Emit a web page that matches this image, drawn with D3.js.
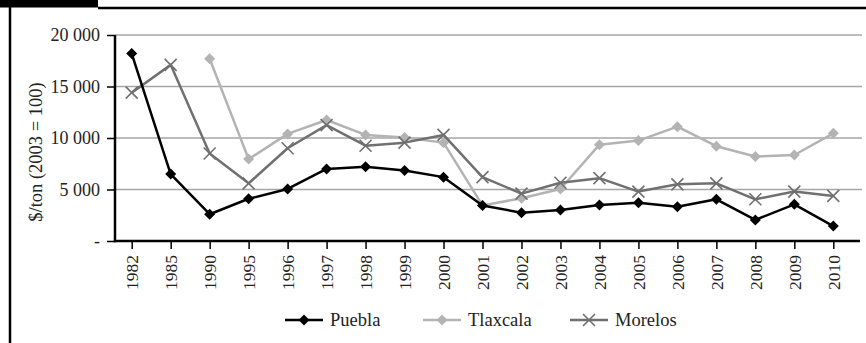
<!DOCTYPE html>
<html><head><meta charset="utf-8">
<script src="https://cdn.jsdelivr.net/npm/d3@7"></script>
<style>
html,body{margin:0;padding:0;background:#fff;}
</style></head>
<body>
<svg id="chart" width="866" height="343"></svg>
<script>
const years = ["1982","1985","1990","1995","1996","1997","1998","1999","2000","2001","2002","2003","2004","2005","2006","2007","2008","2009","2010"];
const puebla   = [18200,6500,2600,4100,5050,7000,7200,6850,6200,3450,2750,3000,3500,3720,3330,4050,2050,3560,1450];
const tlaxcala = [null,null,17700,7950,10400,11750,10300,10050,9550,3450,4150,5050,9350,9750,11100,9200,8200,8350,10450];
const morelos  = [14400,17100,8500,5600,9000,11250,9250,9550,10300,6200,4600,5650,6100,4800,5500,5600,4050,4800,4380];
const yTicks = [0,5000,10000,15000,20000];
const yTickLabels = ["-","5 000","10 000","15 000","20 000"];
const seriesNames = ["Puebla","Tlaxcala","Morelos"];
const yTitle = "$/ton (2003 = 100)";

const FONT = '"Liberation Serif", "Times New Roman", serif';
const svg = d3.select("#chart");
const colors = {Puebla:"#000000", Tlaxcala:"#b3b3b3", Morelos:"#707070"};
const series = [
  {name:"Puebla", values:puebla, sym:"diamond"},
  {name:"Tlaxcala", values:tlaxcala, sym:"diamond"},
  {name:"Morelos", values:morelos, sym:"x"}
];

const x = d3.scalePoint().domain(years).range([131.7, 833.3]);
const y = d3.scaleLinear().domain([0,20000]).range([241,35]);
const axisX = 115, gridRight = 862, axisRight = 860;

// frame
svg.append("rect").attr("x",0).attr("y",0).attr("width",98).attr("height",7.5).attr("fill","#000");
svg.append("line").attr("x1",98).attr("x2",866).attr("y1",8).attr("y2",8).attr("stroke","#000").attr("stroke-width",2.5);
svg.append("line").attr("x1",10).attr("x2",10).attr("y1",7).attr("y2",343).attr("stroke","#000").attr("stroke-width",2.5);

// gridlines
svg.append("g").selectAll("line").data(yTicks.filter(d=>d>0)).join("line")
  .attr("x1",axisX).attr("x2",gridRight).attr("y1",d=>y(d)).attr("y2",d=>y(d))
  .attr("stroke","#a6a6a6").attr("stroke-width",1.5);

// y axis
const ya = svg.append("g").attr("transform",`translate(${axisX},0)`)
  .call(d3.axisLeft(y).tickValues(yTicks).tickFormat((d,i)=>yTickLabels[i]).tickSize(8).tickPadding(7));
ya.select(".domain").remove();
ya.selectAll(".tick line").attr("stroke","#000").attr("stroke-width",1.5);
ya.selectAll(".tick text").style("font-family",FONT).style("font-size","18px").attr("fill","#222");
svg.append("line").attr("x1",axisX).attr("x2",axisX).attr("y1",y(20000)).attr("y2",y(0)+1.2).attr("stroke","#000").attr("stroke-width",2.5);

// x axis
const xa = svg.append("g").attr("transform",`translate(0,${y(0)})`)
  .call(d3.axisBottom(x).tickSize(8).tickPadding(6));
xa.select(".domain").remove();
xa.selectAll(".tick line").attr("stroke","#000").attr("stroke-width",1.5);
xa.selectAll(".tick text").style("font-family",FONT).style("font-size","17.5px").attr("fill","#222")
  .attr("transform","rotate(-90)").attr("text-anchor","end").attr("dy","0.35em").attr("x",-14).attr("y",0);
svg.append("line").attr("x1",axisX-1.2).attr("x2",axisRight).attr("y1",y(0)).attr("y2",y(0)).attr("stroke","#000").attr("stroke-width",2.5);

// y title
svg.append("text").attr("transform","translate(42,152) rotate(-90)").attr("text-anchor","middle")
  .style("font-family",FONT).style("font-size","18.5px").attr("fill","#222").text(yTitle);

const diamond = s => `M0,${-s}L${s},0L0,${s}L${-s},0Z`;
function drawSym(g, sym, color){
  if(sym==="diamond"){
    g.append("path").attr("d",diamond(5.5)).attr("fill",color);
  } else {
    g.append("path").attr("d","M-6,-6L6,6M-6,6L6,-6").attr("stroke",color).attr("stroke-width",1.6).attr("fill","none");
  }
}

// lines
const drawOrder = [series[1], series[2], series[0]];
drawOrder.forEach(s=>{
  const pts = years.map((yr,i)=>({yr, v:s.values[i]})).filter(d=>d.v!=null);
  const line = d3.line().x(d=>x(d.yr)).y(d=>y(d.v));
  svg.append("path").datum(pts).attr("d",line).attr("fill","none")
    .attr("stroke",colors[s.name]).attr("stroke-width",2.5).attr("stroke-linejoin","round");
  pts.forEach(d=>{
    const g = svg.append("g").attr("transform",`translate(${x(d.yr)},${y(d.v)})`);
    drawSym(g, s.sym, colors[s.name]);
  });
});

// legend
const legendX = {Puebla:285, Tlaxcala:423, Morelos:570};
const ly = 320;
series.forEach(s=>{
  const lx = legendX[s.name];
  svg.append("line").attr("x1",lx).attr("x2",lx+38).attr("y1",ly).attr("y2",ly)
    .attr("stroke",colors[s.name]).attr("stroke-width",2.5);
  const g = svg.append("g").attr("transform",`translate(${lx+19},${ly})`);
  drawSym(g, s.sym, colors[s.name]);
  svg.append("text").attr("x",lx+45).attr("y",ly).attr("dy","0.33em")
    .style("font-family",FONT).style("font-size","18.5px")
    .attr("fill","#222").text(s.name);
});
</script>
</body></html>
